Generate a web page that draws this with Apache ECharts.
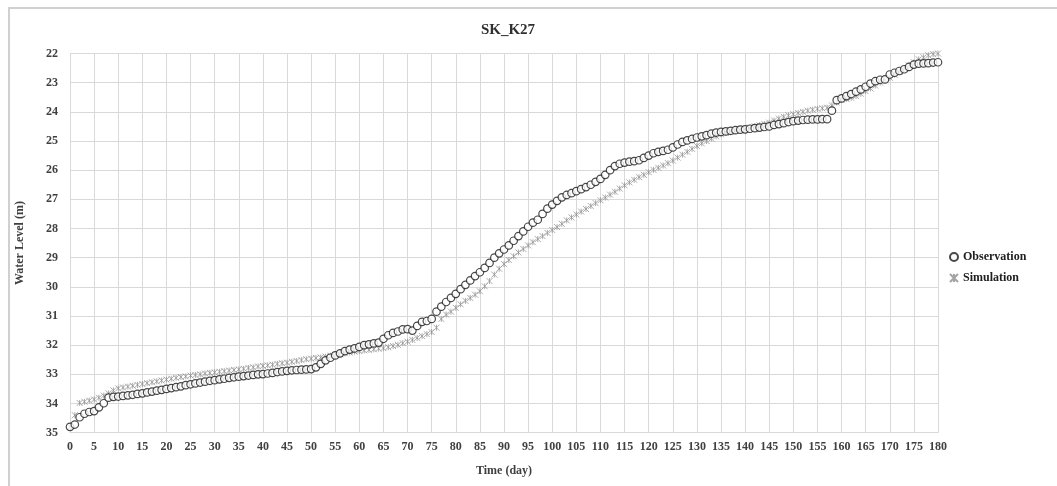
<!DOCTYPE html>
<html>
<head>
<meta charset="utf-8">
<script src="https://cdn.jsdelivr.net/npm/echarts@6/dist/echarts.min.js"></script>
<style>
  html, body { margin: 0; padding: 0; background: #fff; }
  #chart { width: 1057px; height: 486px; }
</style>
</head>
<body>
<div id="chart"></div>
<script>
// water level (m), one value per day, day 0 .. 180
const observation = [
  34.8, 34.72, 34.47, 34.35, 34.29, 34.26, 34.13, 33.99, 33.8, 33.77,
  33.76, 33.74, 33.72, 33.7, 33.67, 33.65, 33.62, 33.59, 33.56, 33.53,
  33.5, 33.47, 33.44, 33.41, 33.37, 33.34, 33.31, 33.28, 33.25, 33.22,
  33.2, 33.17, 33.15, 33.12, 33.1, 33.08, 33.06, 33.04, 33.02, 33.0,
  32.99, 32.97, 32.95, 32.92, 32.9, 32.88, 32.86, 32.85, 32.84, 32.83,
  32.82, 32.76, 32.64, 32.52, 32.43, 32.35, 32.28, 32.2, 32.15, 32.11,
  32.06, 32.0, 31.97, 31.94, 31.91, 31.78, 31.66, 31.58, 31.53, 31.46,
  31.45, 31.5, 31.34, 31.2, 31.17, 31.1, 30.85, 30.68, 30.52, 30.38,
  30.24, 30.08, 29.93, 29.78, 29.63, 29.5, 29.35, 29.18, 29.0, 28.85,
  28.72, 28.58, 28.42, 28.26, 28.1, 27.94, 27.8, 27.7, 27.5, 27.32,
  27.18, 27.05, 26.93, 26.85, 26.79, 26.72, 26.65, 26.58, 26.5, 26.4,
  26.3, 26.16, 26.0, 25.86, 25.78, 25.74, 25.71, 25.69, 25.66, 25.58,
  25.5, 25.42, 25.37, 25.34, 25.3, 25.22, 25.12, 25.03, 24.98, 24.93,
  24.88, 24.84, 24.8, 24.75, 24.71, 24.69, 24.67, 24.65, 24.63, 24.61,
  24.6, 24.58, 24.56, 24.54, 24.52, 24.5, 24.45, 24.42, 24.39, 24.35,
  24.32, 24.3, 24.28, 24.27, 24.26, 24.26, 24.25, 24.25, 23.96, 23.6,
  23.54, 23.46, 23.39, 23.31, 23.23, 23.14, 23.03, 22.95, 22.9, 22.89,
  22.72, 22.66, 22.6, 22.54, 22.46, 22.38, 22.35, 22.34, 22.33, 22.31,
  22.3
]

const simulation = [
  34.8, 34.4, 33.98, 33.94, 33.9, 33.86, 33.8, 33.73, 33.65, 33.55,
  33.48, 33.45, 33.42, 33.39, 33.36, 33.33, 33.3, 33.27, 33.24, 33.21,
  33.18, 33.15, 33.12, 33.09, 33.07, 33.04, 33.02, 33.0, 32.97, 32.95,
  32.93, 32.91, 32.89, 32.87, 32.85, 32.83, 32.81, 32.78, 32.76, 32.73,
  32.71, 32.69, 32.67, 32.64, 32.62, 32.6, 32.57, 32.54, 32.51, 32.48,
  32.46, 32.44, 32.42, 32.39, 32.36, 32.34, 32.31, 32.28, 32.25, 32.22,
  32.2, 32.18, 32.16, 32.14, 32.12, 32.1, 32.07, 32.03, 31.99, 31.93,
  31.88, 31.82, 31.75, 31.69, 31.62, 31.55, 31.4, 31.1, 30.95, 30.85,
  30.72, 30.6, 30.48, 30.38, 30.27, 30.15, 29.98, 29.8, 29.58, 29.38,
  29.22, 29.08, 28.95, 28.82, 28.7, 28.58, 28.47, 28.36, 28.26, 28.15,
  28.05, 27.95, 27.84, 27.72, 27.62, 27.52, 27.42, 27.33, 27.23, 27.13,
  27.03, 26.94, 26.84, 26.74, 26.63, 26.52, 26.42, 26.33, 26.24, 26.16,
  26.07, 25.99, 25.92, 25.84, 25.76, 25.67, 25.57, 25.47, 25.37, 25.27,
  25.17, 25.08, 25.0, 24.92, 24.84, 24.77, 24.72, 24.68, 24.64, 24.61,
  24.58, 24.54, 24.5, 24.46, 24.42, 24.37, 24.3, 24.23, 24.17, 24.12,
  24.08, 24.04, 24.0, 23.96, 23.93, 23.9, 23.88, 23.86, 23.78, 23.68,
  23.6, 23.56, 23.52, 23.46, 23.38, 23.29, 23.2, 23.1, 23.0, 22.92,
  22.83, 22.73, 22.63, 22.52, 22.41, 22.3, 22.2, 22.13, 22.06, 22.02,
  22.0
]

const seriesNames = ['Observation', 'Simulation']

const serif = 'Liberation Serif'
const chart = echarts.init(document.getElementById('chart'))

const toPoints = (arr) => arr.map((v, day) => [day, v])

const option = {
  backgroundColor: '#fff',
  animation: false,
  graphic: [
    {
      type: 'rect',
      shape: { x: 9, y: 8, width: 1060, height: 490 },
      style: { fill: 'none', stroke: '#d0d0d0', lineWidth: 2 },
      silent: true
    }
  ],
  title: {
    text: 'SK_K27',
    left: 503,
    top: 18,
    textAlign: 'center',
    textStyle: { fontFamily: serif, fontWeight: 'bold', fontSize: 15, color: '#303030' }
  },
  legend: {
    orient: 'vertical',
    left: 944,
    top: 246,
    itemGap: 9,
    itemWidth: 8,
    itemHeight: 8,
    data: seriesNames,
    textStyle: { fontFamily: serif, fontWeight: 'bold', fontSize: 12, color: '#202020' }
  },
  grid: { left: 70, right: 119, top: 53.5, bottom: 53.3 },
  xAxis: {
    type: 'value',
    min: 0,
    max: 180,
    interval: 5,
    name: 'Time (day)',
    nameLocation: 'middle',
    nameGap: 32,
    nameTextStyle: { fontFamily: serif, fontWeight: 'bold', fontSize: 12, color: '#404040' },
    axisLine: { show: true, lineStyle: { color: '#d9d9d9' } },
    axisTick: { show: false },
    axisLabel: { fontFamily: serif, fontWeight: 'bold', fontSize: 12, color: '#404040', margin: 8 },
    splitLine: { show: true, lineStyle: { color: '#d9d9d9', width: 1 } }
  },
  yAxis: {
    type: 'value',
    inverse: true,
    min: 22,
    max: 35,
    interval: 1,
    name: 'Water Level (m)',
    nameLocation: 'middle',
    nameRotate: 90,
    nameGap: 44,
    nameTextStyle: { fontFamily: serif, fontWeight: 'bold', fontSize: 12, color: '#404040' },
    axisLine: { show: false },
    axisTick: { show: false },
    axisLabel: { fontFamily: serif, fontWeight: 'bold', fontSize: 12, color: '#404040', margin: 12 },
    splitLine: { show: true, lineStyle: { color: '#d9d9d9', width: 1 } }
  },
  series: [
    {
      name: seriesNames[0],
      type: 'scatter',
      z: 3,
      symbol: 'circle',
      symbolSize: 7.5,
      itemStyle: { color: '#ffffff', borderColor: '#1a1a1a', borderWidth: 1.2 },
      data: toPoints(observation)
    },
    {
      name: seriesNames[1],
      type: 'scatter',
      z: 2,
      symbol: 'path://M0,0L10,10M10,0L0,10M5,0L5,10',
      symbolSize: 6,
      itemStyle: { color: '#8c8c8c', borderColor: '#8c8c8c', borderWidth: 0.9 },
      data: toPoints(simulation)
    }
  ]
}

chart.setOption(option)
</script>
</body>
</html>
